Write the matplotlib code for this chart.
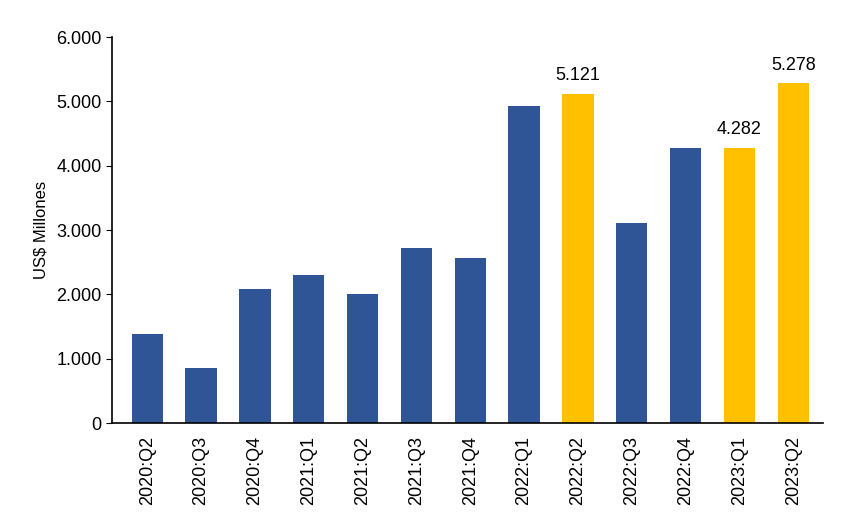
import matplotlib.pyplot as plt
from matplotlib.ticker import FuncFormatter

plt.rcParams["font.family"] = ["Liberation Sans", "DejaVu Sans"]

quarters = ["2020:Q2", "2020:Q3", "2020:Q4", "2021:Q1", "2021:Q2", "2021:Q3",
            "2021:Q4", "2022:Q1", "2022:Q2", "2022:Q3", "2022:Q4", "2023:Q1",
            "2023:Q2"]
values = [1380, 855, 2080, 2310, 2005, 2720, 2560, 4930, 5121, 3105, 4270,
          4282, 5278]
highlight = [False, False, False, False, False, False, False, False, True,
             False, False, True, True]

blue = "#2F5597"
gold = "#FFC000"

fig, ax = plt.subplots(figsize=(8.44, 5.29), dpi=100)
fig.subplots_adjust(left=0.133, right=0.975, top=0.93, bottom=0.2)

x = range(len(quarters))
colors = [gold if h else blue for h in highlight]
ax.bar(x, values, width=0.58, color=colors)

# labels only on the highlighted bars
for i, (v, h) in enumerate(zip(values, highlight)):
    if h:
        ax.text(i, v + 150, f"{v:,}".replace(",", "."), ha="center",
                va="bottom", fontsize=13)

ax.set_ylim(0, 6000)
ax.set_xlim(-0.65, len(quarters) - 0.45)
ax.set_yticks(range(0, 6001, 1000))
ax.yaxis.set_major_formatter(FuncFormatter(lambda v, p: f"{int(v):,}".replace(",", ".")))
ax.set_ylabel("US$ Millones", fontsize=12, labelpad=6)

ax.set_xticks(list(x))
ax.set_xticklabels(quarters, rotation=90, fontsize=13)
ax.tick_params(axis="y", labelsize=13, length=4, direction="out")
ax.tick_params(axis="x", length=0, pad=9)

for s in ["top", "right"]:
    ax.spines[s].set_visible(False)
ax.spines["left"].set_linewidth(1.2)
ax.spines["bottom"].set_linewidth(1.2)

plt.savefig("out.png", dpi=100)
